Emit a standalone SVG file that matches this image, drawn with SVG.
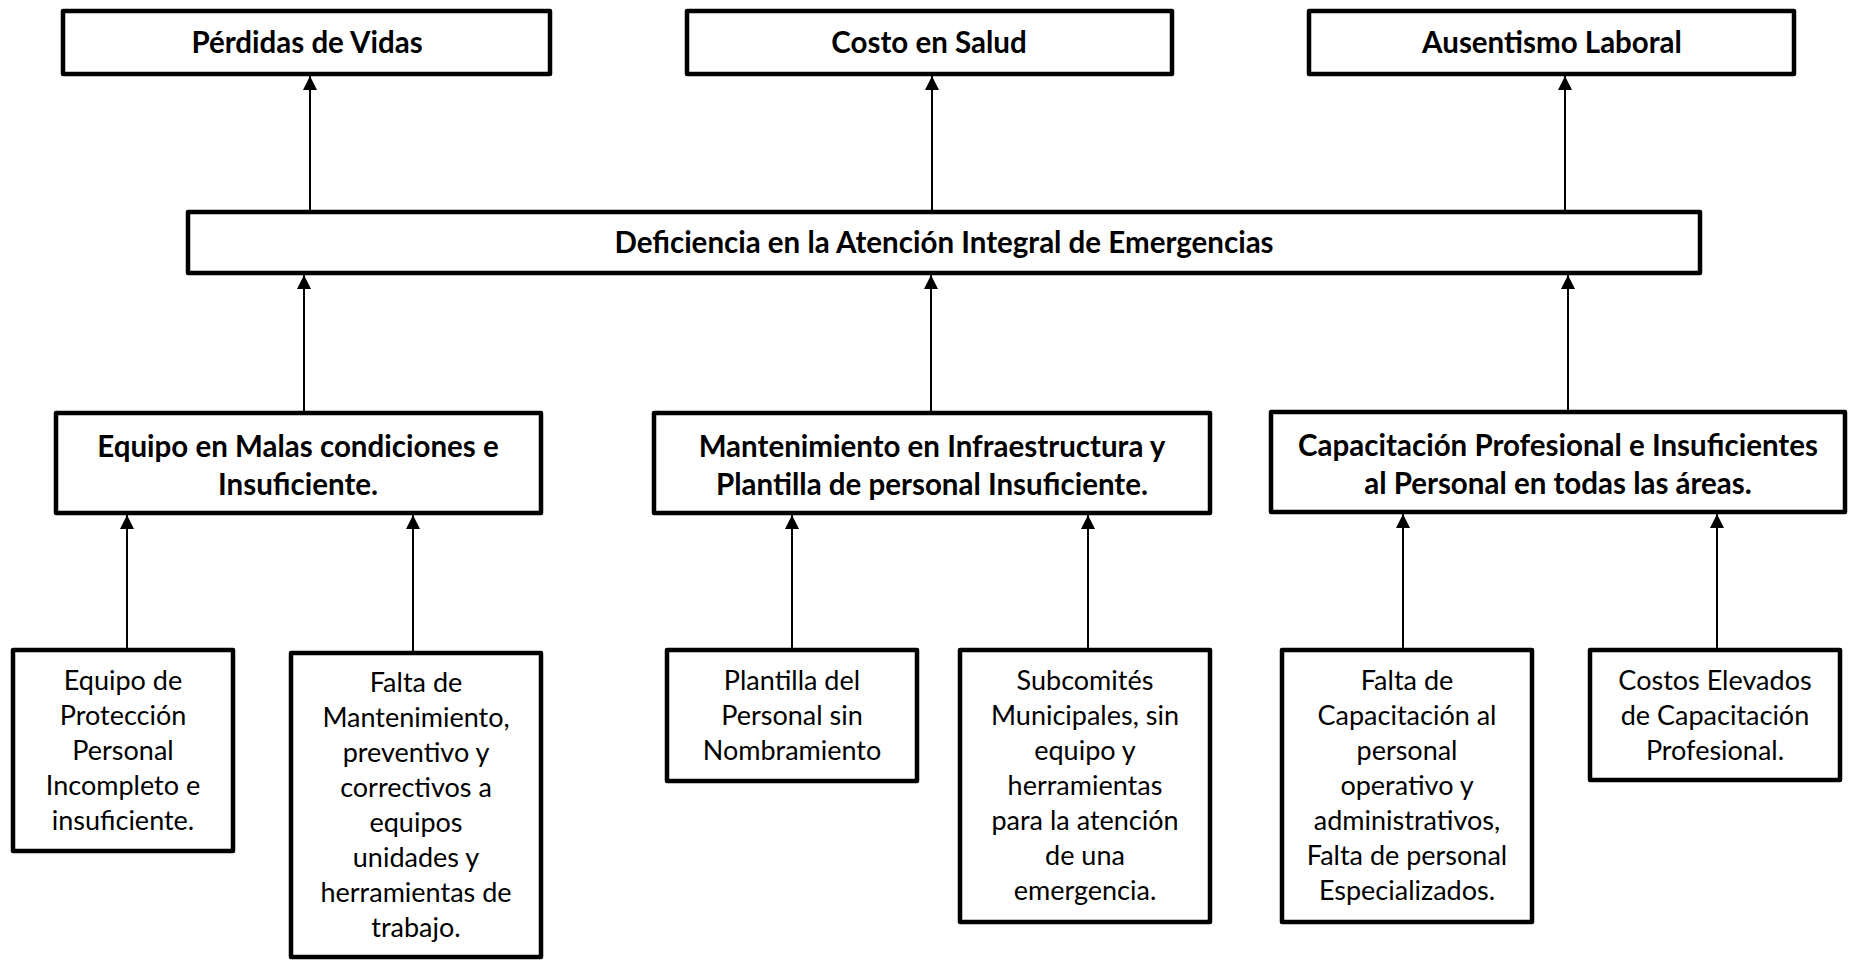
<svg xmlns="http://www.w3.org/2000/svg" width="1855" height="961" viewBox="0 0 1855 961">
<defs>
<marker id="ah" markerWidth="14" markerHeight="14" viewBox="0 0 14 14" refX="14" refY="7" orient="auto" markerUnits="userSpaceOnUse"><path d="M0,0 L14,7 L0,14 z" fill="#000"/></marker>
</defs>
<style>
.box{fill:#fff;stroke:#000;stroke-width:4.5;stroke-linejoin:round}
.b{font-family:Lato,"Liberation Sans",sans-serif;font-weight:bold;font-size:29.5px;text-anchor:middle;fill:#000}
.r{font-family:Lato,"Liberation Sans",sans-serif;font-size:27px;text-anchor:middle;fill:#000}
.c{stroke:#000;stroke-width:2;fill:none;marker-end:url(#ah)}
</style>
<rect width="1855" height="961" fill="#fff"/>
<g id="perdidas"><rect class="box" x="63" y="11" width="487" height="63"/><text class="b" x="307" y="53">Pérdidas de Vidas</text></g>
<g id="costo"><rect class="box" x="687" y="11" width="485" height="63"/><text class="b" x="929" y="53">Costo en Salud</text></g>
<g id="ausentismo"><rect class="box" x="1309" y="11" width="485" height="63"/><text class="b" x="1552" y="53">Ausentismo Laboral</text></g>
<g id="deficiencia"><rect class="box" x="188" y="212" width="1512" height="61"/><text class="b" x="944" y="253">Deficiencia en la Atención Integral de Emergencias</text></g>
<g id="equipo"><rect class="box" x="56" y="413" width="485" height="100"/><text class="b" x="298" y="457">Equipo en Malas condiciones e</text><text class="b" x="298" y="495">Insuficiente.</text></g>
<g id="mantenimiento"><rect class="box" x="654" y="413" width="556" height="100"/><text class="b" x="932" y="457">Mantenimiento en Infraestructura y</text><text class="b" x="932" y="495">Plantilla de personal Insuficiente.</text></g>
<g id="capacitacion"><rect class="box" x="1271" y="412" width="574" height="100"/><text class="b" x="1558" y="456">Capacitación Profesional e Insuficientes</text><text class="b" x="1558" y="494">al Personal en todas las áreas.</text></g>
<g id="leaf1"><rect class="box" x="13" y="650" width="220" height="201"/>
<text class="r" x="123" y="690">Equipo de</text><text class="r" x="123" y="725">Protección</text><text class="r" x="123" y="760">Personal</text><text class="r" x="123" y="795">Incompleto e</text><text class="r" x="123" y="830">insuficiente.</text></g>
<g id="leaf2"><rect class="box" x="291" y="653" width="250" height="304"/>
<text class="r" x="416" y="692">Falta de</text><text class="r" x="416" y="727">Mantenimiento,</text><text class="r" x="416" y="762">preventivo y</text><text class="r" x="416" y="797">correctivos a</text><text class="r" x="416" y="832">equipos</text><text class="r" x="416" y="867">unidades y</text><text class="r" x="416" y="902">herramientas de</text><text class="r" x="416" y="937">trabajo.</text></g>
<g id="leaf3"><rect class="box" x="667" y="650" width="250" height="131"/>
<text class="r" x="792" y="690">Plantilla del</text><text class="r" x="792" y="725">Personal sin</text><text class="r" x="792" y="760">Nombramiento</text></g>
<g id="leaf4"><rect class="box" x="960" y="650" width="250" height="272"/>
<text class="r" x="1085" y="690">Subcomités</text><text class="r" x="1085" y="725">Municipales, sin</text><text class="r" x="1085" y="760">equipo y</text><text class="r" x="1085" y="795">herramientas</text><text class="r" x="1085" y="830">para la atención</text><text class="r" x="1085" y="865">de una</text><text class="r" x="1085" y="900">emergencia.</text></g>
<g id="leaf5"><rect class="box" x="1282" y="650" width="250" height="272"/>
<text class="r" x="1407" y="690">Falta de</text><text class="r" x="1407" y="725">Capacitación al</text><text class="r" x="1407" y="760">personal</text><text class="r" x="1407" y="795">operativo y</text><text class="r" x="1407" y="830">administrativos,</text><text class="r" x="1407" y="865">Falta de personal</text><text class="r" x="1407" y="900">Especializados.</text></g>
<g id="leaf6"><rect class="box" x="1590" y="650" width="250" height="130"/>
<text class="r" x="1715" y="690">Costos Elevados</text><text class="r" x="1715" y="725">de Capacitación</text><text class="r" x="1715" y="760">Profesional.</text></g>
<g id="connectors">
<line class="c" x1="310" y1="210" x2="310" y2="76"/>
<line class="c" x1="932" y1="210" x2="932" y2="76"/>
<line class="c" x1="1565" y1="210" x2="1565" y2="76"/>
<line class="c" x1="304" y1="411" x2="304" y2="275"/>
<line class="c" x1="931" y1="411" x2="931" y2="275"/>
<line class="c" x1="1568" y1="410" x2="1568" y2="275"/>
<line class="c" x1="127" y1="648" x2="127" y2="515"/>
<line class="c" x1="413" y1="651" x2="413" y2="515"/>
<line class="c" x1="792" y1="648" x2="792" y2="515"/>
<line class="c" x1="1088" y1="648" x2="1088" y2="515"/>
<line class="c" x1="1403" y1="648" x2="1403" y2="514"/>
<line class="c" x1="1717" y1="648" x2="1717" y2="514"/>
</g>
</svg>
